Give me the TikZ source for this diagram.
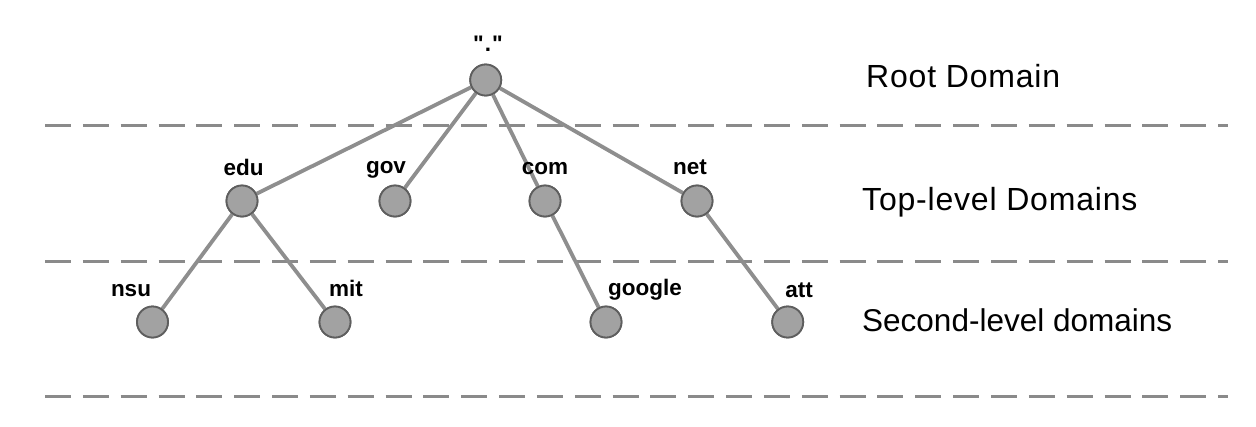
\documentclass[tikz,border=0pt]{standalone}
\usepackage{fontspec}
\setmainfont{Liberation Sans}
\newfontfamily\lvlfont[LetterSpace=2.5]{Liberation Sans}
\newfontfamily\qfont{Liberation Sans}
\begin{document}
\begin{tikzpicture}[x=1pt,y=-1pt,
  dom/.style={circle,draw=nodeedge,fill=nodefill,line width=1.8pt,minimum size=31pt,inner sep=0pt},
  edge/.style={draw=edgecol,line width=3.8pt},
  sep/.style={draw=sepcol,line width=3pt,dash pattern=on 26pt off 11.84pt},
  lab/.style={font=\fontsize{22.5}{24}\selectfont\bfseries,anchor=base,text=black,inner sep=0pt},
  lvl/.style={font=\fontsize{31.5}{34}\selectfont,anchor=base west,text=black,inner sep=0pt}]
\definecolor{nodeedge}{HTML}{5E5E5E}
\definecolor{nodefill}{HTML}{A2A2A2}
\definecolor{edgecol}{HTML}{8E8E8E}
\definecolor{sepcol}{HTML}{8A8A8A}
\useasboundingbox (0,0) rectangle (1256,426);
% separators
\coordinate (s1a) at (45,125.5); \coordinate (s1b) at (1228,125.5);
\coordinate (s2a) at (45,261.7); \coordinate (s2b) at (1228,261.7);
\coordinate (s3a) at (45,396.7); \coordinate (s3b) at (1228,396.7);
\draw[sep] (s1a) -- (s1b);
\draw[sep] (s2a) -- (s2b);
\draw[sep] (s3a) -- (s3b);
% nodes
\node[dom] (root) at (485.7,80) {};
\node[dom] (edu) at (242,201) {};
\node[dom] (gov) at (395,201) {};
\node[dom] (com) at (545,201) {};
\node[dom] (net) at (697,201) {};
\node[dom] (nsu) at (152.5,322) {};
\node[dom] (mit) at (335,322) {};
\node[dom] (google) at (606,322) {};
\node[dom] (att) at (787.7,322) {};
% edges
\draw[edge] (root) -- (edu);
\draw[edge] (root) -- (gov);
\draw[edge] (root) -- (com);
\draw[edge] (root) -- (net);
\draw[edge] (edu) -- (nsu);
\draw[edge] (edu) -- (mit);
\draw[edge] (com) -- (google);
\draw[edge] (net) -- (att);
% redraw nodes on top of the edges
\foreach \n in {root,edu,gov,com,net,nsu,mit,google,att}{
  \fill[nodefill] (\n.center) circle (15.5pt);
  \draw[nodeedge,line width=1.8pt] (\n.center) circle (15.5pt);
}
% labels
\node[lab,font=\fontsize{22.5}{24}\selectfont\qfont\bfseries] (lroot) at (488,51) {"\kern1pt.\kern1pt"};
\node[lab] (ledu) at (243.5,175) {edu};
\node[lab] (lgov) at (386,173) {gov};
\node[lab] (lcom) at (545,174) {com};
\node[lab] (lnet) at (690,174) {net};
\node[lab] (lnsu) at (131,296) {nsu};
\node[lab] (lmit) at (346,296) {mit};
\node[lab] (lgoogle) at (645,295) {google};
\node[lab] (latt) at (799,297) {att};
% level labels
\node[lvl,font=\fontsize{32}{34}\selectfont\lvlfont] (troot) at (866,87) {Root Domain};
\node[lvl,font=\fontsize{32}{34}\selectfont\lvlfont] (ttop) at (862,210) {Top-level Domains};
\node[lvl] (tsec) at (862,331) {Second-level domains};
\end{tikzpicture}
\end{document}
